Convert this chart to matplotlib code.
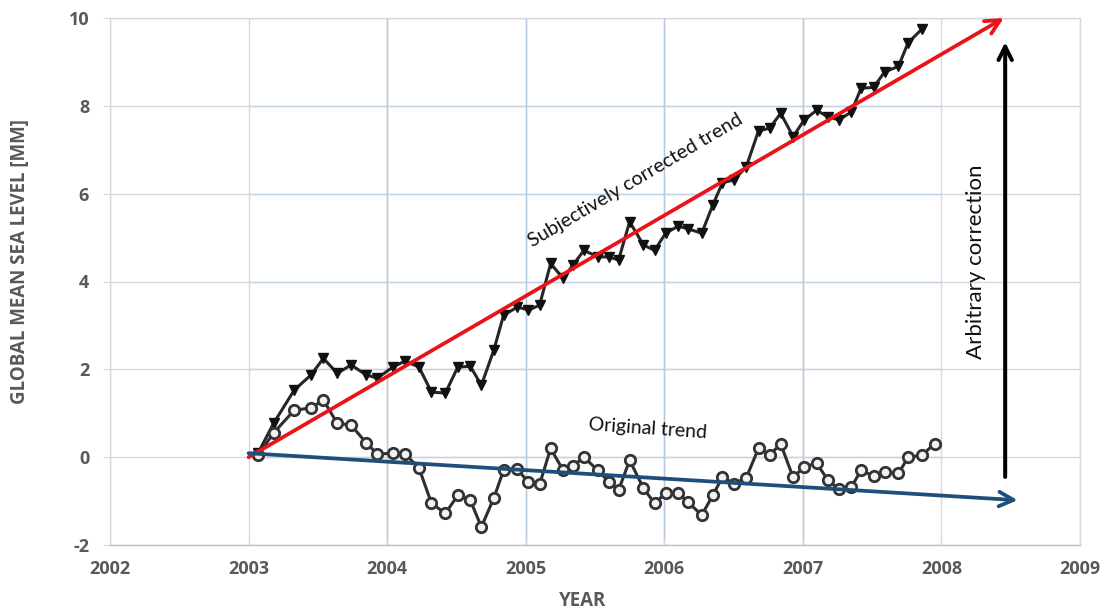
import matplotlib
matplotlib.use("Agg")
import matplotlib.pyplot as plt

# ---------------- data ----------------
years = [2003.07, 2003.18, 2003.33, 2003.45, 2003.54, 2003.64, 2003.74, 2003.85, 2003.93,
         2004.04, 2004.13, 2004.23, 2004.32, 2004.42, 2004.51, 2004.60, 2004.68, 2004.77,
         2004.84, 2004.94, 2005.02, 2005.10, 2005.18, 2005.27, 2005.34, 2005.42, 2005.52,
         2005.60, 2005.67, 2005.75, 2005.85, 2005.93, 2006.01, 2006.10, 2006.17, 2006.27,
         2006.35, 2006.42, 2006.50, 2006.59, 2006.68, 2006.76, 2006.84, 2006.93, 2007.01,
         2007.10, 2007.18, 2007.26, 2007.35, 2007.42, 2007.51, 2007.59, 2007.69, 2007.76,
         2007.86, 2007.95]

original = [0.05, 0.55, 1.07, 1.12, 1.30, 0.77, 0.73, 0.32, 0.07, 0.09, 0.07, -0.25,
            -1.05, -1.28, -0.87, -0.98, -1.59, -0.93, -0.30, -0.28, -0.57, -0.62, 0.20,
            -0.30, -0.20, 0.00, -0.30, -0.56, -0.75, -0.07, -0.71, -1.05, -0.82, -0.81,
            -1.02, -1.32, -0.87, -0.45, -0.60, -0.48, 0.20, 0.05, 0.30, -0.46, -0.22,
            -0.14, -0.52, -0.73, -0.68, -0.30, -0.43, -0.34, -0.37, 0.00, 0.04, 0.31]

corrected = [0.10, 0.77, 1.53, 1.87, 2.25, 1.91, 2.10, 1.87, 1.80, 2.05, 2.19, 2.05,
             1.48, 1.46, 2.05, 2.07, 1.64, 2.44, 3.23, 3.42, 3.35, 3.46, 4.41, 4.07,
             4.37, 4.71, 4.56, 4.56, 4.49, 5.36, 4.83, 4.71, 5.10, 5.26, 5.20, 5.10,
             5.74, 6.25, 6.31, 6.60, 7.43, 7.49, 7.83, 7.30, 7.68, 7.90, 7.75, 7.68,
             7.86, 8.40, 8.42, 8.77, 8.90, 9.44, 9.75]

x_ticks = [2002, 2003, 2004, 2005, 2006, 2007, 2008, 2009]
y_ticks = [-2, 0, 2, 4, 6, 8, 10]

red_trend_start = (2003.0, 0.0)
red_trend_end = (2008.45, 10.0)
blue_trend_start = (2003.0, 0.09)
blue_trend_end = (2008.55, -0.98)
correction_start = (2008.46, -0.45)
correction_end = (2008.46, 9.45)

# ---------------- figure ----------------
W, H = 1104, 611
fig = plt.figure(figsize=(W / 100, H / 100), dpi=100)
ax = fig.add_axes([110 / W, 1 - 545 / H, (1080 - 110) / W, (545 - 18) / H])
ax.set_xlim(2002, 2009)
ax.set_ylim(-2, 10)

grid_gray = "#d9d9d9"
grid_blue = "#b4c8de"
for yv in y_ticks:
    ax.axhline(yv, color=grid_gray, lw=1.0, zorder=0)
for xv in x_ticks:
    ax.axvline(xv, color=grid_gray, lw=1.0, zorder=0)
ax.hlines([0, 2, 4, 6, 8], 2003, 2008, color="#c3d3e6", lw=1.0, zorder=0.5)
ax.vlines([2004, 2005, 2006, 2007], -2, 10, color=grid_blue, lw=1.0, zorder=0.5)

for s in ax.spines.values():
    s.set_color(grid_gray)
    s.set_linewidth(1.0)
ax.spines["bottom"].set_color("#bfbfbf")

ax.set_xticks(x_ticks)
ax.set_yticks(y_ticks)
tick_font = dict(family="Open Sans", weight="bold", size=13)
ax.set_xticklabels([str(v) for v in x_ticks], color="#595959", **tick_font)
ax.set_yticklabels([str(v) for v in y_ticks], color="#595959", **tick_font)
ax.tick_params(axis="y", length=5, color=grid_gray, pad=10)
ax.tick_params(axis="x", length=5, color=grid_gray, pad=11, direction="in")

# series
ax.plot(years[:len(corrected)], corrected, color="#262626", lw=2.2, marker="v",
        markersize=7.5, markerfacecolor="#111111", markeredgecolor="#111111", zorder=3)
ax.plot(years[:len(original)], original, color="#2e2e2e", lw=2.2, marker="o",
        markersize=7.5, markerfacecolor="#f2f2f2", markeredgecolor="#333333",
        markeredgewidth=2.0, zorder=3)

# trend arrows
ax.annotate("", xy=red_trend_end, xytext=red_trend_start, annotation_clip=False,
            arrowprops=dict(arrowstyle="->", color="#e8141a", lw=2.7,
                            mutation_scale=26, shrinkA=0, shrinkB=0), zorder=4)
ax.annotate("", xy=blue_trend_end, xytext=blue_trend_start, annotation_clip=False,
            arrowprops=dict(arrowstyle="->", color="#1f4e79", lw=2.7,
                            mutation_scale=26, shrinkA=0, shrinkB=0), zorder=4)
ax.annotate("", xy=correction_end, xytext=correction_start, annotation_clip=False,
            arrowprops=dict(arrowstyle="->", color="#000000", lw=2.9,
                            mutation_scale=24, shrinkA=0, shrinkB=0), zorder=4)

ax.text(2005.79, 6.3, "Subjectively corrected trend", rotation=30.5,
        ha="center", va="center", rotation_mode="anchor",
        family="Lato", size=14.2, color="#111111")
ax.text(2005.88, 0.64, "Original trend", rotation=-4, ha="center", va="center",
        rotation_mode="anchor", family="Lato", size=14, color="#111111")
ax.text(2008.25, 4.45, "Arbitrary correction", rotation=90, ha="center", va="center",
        family="Lato", size=16, color="#111111")

label_font = dict(family="Open Sans", weight="bold", size=13.5, color="#595959")
fig.text(20 / W, 1 - 262 / H, "GLOBAL MEAN SEA LEVEL [MM]", rotation=90,
         ha="center", va="center", **label_font)
fig.text(583 / W, 1 - 601 / H, "YEAR", ha="center", va="center", **label_font)

fig.savefig("out.png", dpi=100, facecolor="white")
